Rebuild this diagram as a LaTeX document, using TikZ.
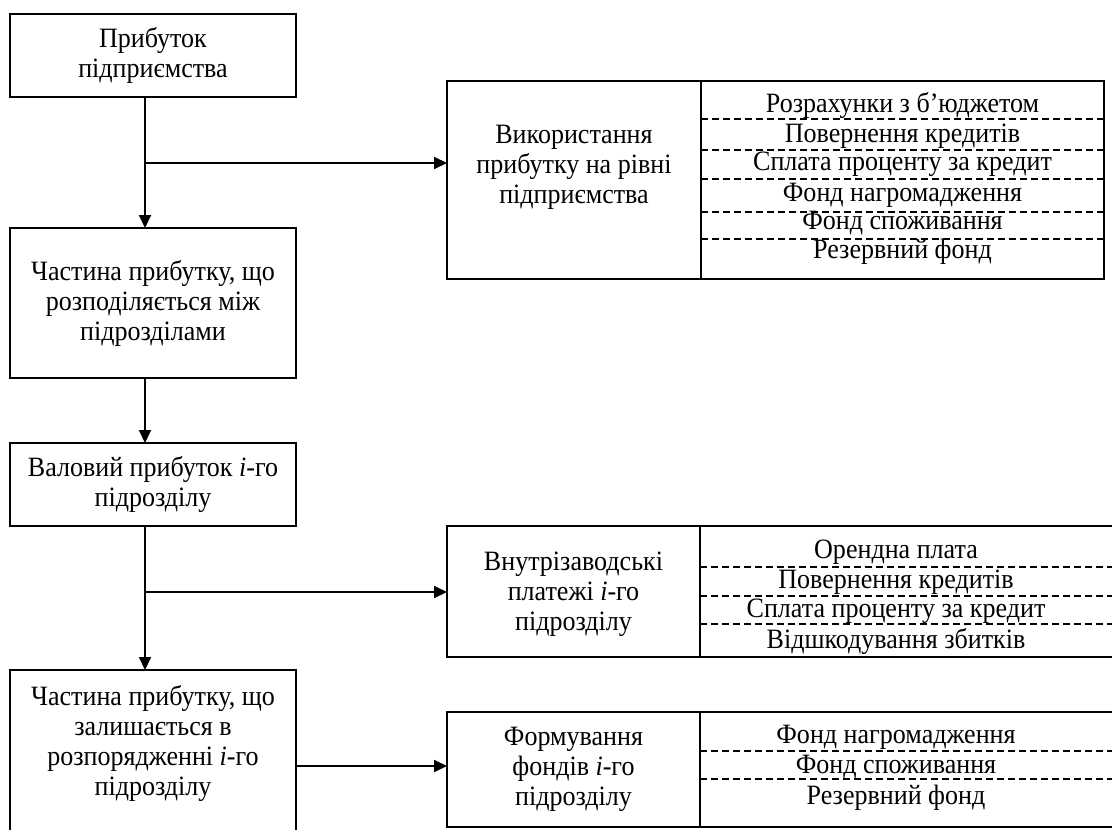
\documentclass[tikz,border=0pt]{standalone}
\usepackage{fontspec}
\setmainfont{Liberation Serif}[FakeStretch=0.93]
\usetikzlibrary{arrows.meta}
\begin{document}
\begin{tikzpicture}[x=1pt,y=-1pt,
  box/.style={draw,line width=2pt,inner sep=0pt,outer sep=0pt,
    align=center,font=\fontsize{28}{30}\selectfont},
  txt/.style={align=center,font=\fontsize{28}{30}\selectfont,inner sep=0pt},
  row/.style={anchor=base,font=\fontsize{28}{30}\selectfont,inner sep=0pt},
  arr/.style={line width=2pt,-{Triangle[length=13pt,width=12pt]}},
  dsh/.style={line width=1.2pt,dash pattern=on 7pt off 4pt}]
\useasboundingbox (0,0) rectangle (1112,830);
\clip (0,0) rectangle (1112,830);
% left column
\node[box,minimum width=286pt,minimum height=83pt] (b1) at (153,55.5) {Прибуток\\підприємства};
\node[box,minimum width=286pt,minimum height=150pt] (b2) at (153,303) {Частина прибутку, що\\розподіляється між\\підрозділами};
\node[box,minimum width=286pt,minimum height=83pt] (b3) at (153,484.5) {Валовий прибуток \textit{i}-го\\підрозділу};
\node[box,minimum width=286pt,minimum height=190pt] (b4) at (153,765) {};
\node[txt] (t4) at (153,743) {Частина прибутку, що\\залишається в\\розпорядженні \textit{i}-го\\підрозділу};
% right box 1
\node[box,minimum width=254pt,minimum height=198pt] (r1a) at (574,180) {};
\node[txt] (t1) at (574,167) {Використання\\прибутку на рівні\\підприємства};
\node[box,minimum width=403pt,minimum height=198pt] (r1b) at (902.5,180) {};
\foreach \y in {119,150,179,212,239} \draw[dsh] (701,\y) -- (1104,\y);
\node[row] (r1t1) at (902.5,112) {Розрахунки з б’юджетом};
\node[row] (r1t2) at (902.5,142) {Повернення кредитів};
\node[row] (r1t3) at (902.5,170) {Сплата проценту за кредит};
\node[row] (r1t4) at (902.5,201) {Фонд нагромадження};
\node[row] (r1t5) at (902.5,229) {Фонд споживання};
\node[row] (r1t6) at (902.5,258) {Резервний фонд};
% right box 2
\node[box,minimum width=253pt,minimum height=131pt] (r2a) at (573.5,591.5) {};
\node[txt] (t2) at (573.5,594) {Внутрізаводські\\платежі \textit{i}-го\\підрозділу};
\node[box,minimum width=430pt,minimum height=131pt] (r2b) at (915,591.5) {};
\foreach \y in {567,596,624} \draw[dsh] (700,\y) -- (1112,\y);
\node[row] (r2t1) at (896,558) {Орендна плата};
\node[row] (r2t2) at (896,588) {Повернення кредитів};
\node[row] (r2t3) at (896,617) {Сплата проценту за кредит};
\node[row] (r2t4) at (896,648) {Відшкодування збитків};
% right box 3
\node[box,minimum width=253pt,minimum height=115pt] (r3a) at (573.5,769.5) {Формування\\фондів \textit{i}-го\\підрозділу};
\node[box,minimum width=430pt,minimum height=115pt] (r3b) at (915,769.5) {};
\foreach \y in {751,779} \draw[dsh] (700,\y) -- (1112,\y);
\node[row] (r3t1) at (896,743) {Фонд нагромадження};
\node[row] (r3t2) at (896,773) {Фонд споживання};
\node[row] (r3t3) at (896,804) {Резервний фонд};
% connectors
\coordinate (j1) at (145,163);
\coordinate (j2) at (145,592);
\coordinate (j3) at (296,766);
\draw[arr] (b1.south -| j1) -- (b2.north -| j1);
\draw[arr] (j1) -- (j1 -| r1a.west);
\draw[arr] (b2.south -| j1) -- (b3.north -| j1);
\draw[arr] (b3.south -| j1) -- (b4.north -| j1);
\draw[arr] (j2) -- (j2 -| r2a.west);
\draw[arr] (j3 -| b4.east) -- (j3 -| r3a.west);
\end{tikzpicture}
\end{document}
